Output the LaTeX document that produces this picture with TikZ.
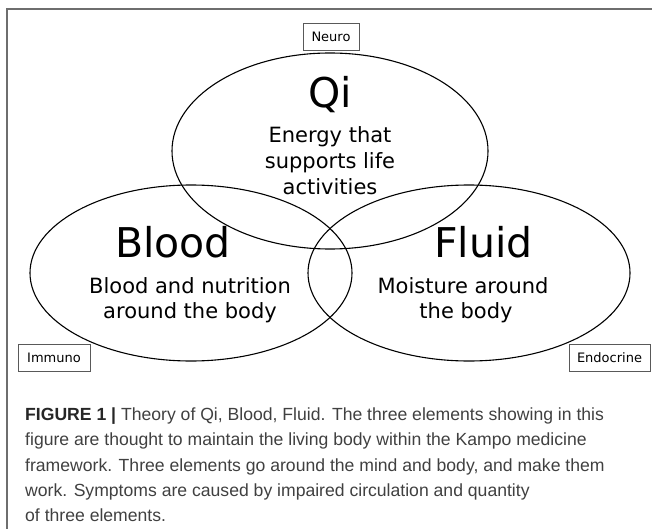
\documentclass[tikz,border=0pt]{standalone}
\usepackage{fontspec}
\setmainfont{Liberation Sans}
\newfontfamily\djv{DejaVu Sans}
\usetikzlibrary{shapes.geometric}
\definecolor{framegray}{HTML}{6E6E6E}
\definecolor{captext}{HTML}{404040}
\begin{document}
\begin{tikzpicture}[x=1pt,y=-1pt,
  venn/.style={ellipse, draw=black, line width=1.1pt, inner sep=0pt},
  tagbox/.style={draw=black!65, line width=0.7pt, font=\djv\fontsize{13}{15}\selectfont, minimum height=27pt, inner sep=0pt},
  titletext/.style={font=\djv\fontsize{41}{45}\selectfont, anchor=base, inner sep=0pt},
  subtext/.style={font=\djv\fontsize{21}{25}\selectfont, anchor=base, inner sep=0pt},
  captionline/.style={font=\fontsize{17.6}{21}\selectfont, text=captext, anchor=base west, inner sep=0pt}]
\useasboundingbox (0,0) rectangle (652,529);
% frame
\draw[framegray, line width=1.5pt] (7,529) -- (7,9) -- (652,9);
% ellipses
\node[venn, minimum width=316pt, minimum height=196pt] (qi) at (330,151) {};
\node[venn, minimum width=322pt, minimum height=176pt] (blood) at (191,273) {};
\node[venn, minimum width=322pt, minimum height=176pt] (fluid) at (469,273) {};
% tags
\node[tagbox, minimum width=56pt] (neuro) at (331,36.5) {Neuro};
\node[tagbox, minimum width=72pt] (immuno) at (54,357.5) {Immuno};
\node[tagbox, minimum width=81pt] (endo) at (609.5,357.5) {Endocrine};
% Qi texts
\node[titletext] (qit) at (330,108) {Qi};
\node[subtext] (qi1) at (330,143) {Energy that};
\node[subtext] (qi2) at (330,169) {supports life};
\node[subtext] (qi3) at (330,195) {activities};
% Blood texts
\node[titletext] (bt) at (173,257) {Blood};
\node[subtext] (b1) at (190,293) {Blood and nutrition};
\node[subtext] (b2) at (190,318) {around the body};
% Fluid texts
\node[titletext] (ft) at (483.5,257) {Fluid};
\node[subtext] (f1) at (463,293) {Moisture around};
\node[subtext] (f2) at (466,318) {the body};
% caption
\node[captionline] (c1) at (25,420) {\textbf{\color{black!85}FIGURE 1 |} Theory of Qi, Blood, Fluid. The three elements showing in this};
\node[captionline] (c2) at (25,445.5) {figure are thought to maintain the living body within the Kampo medicine};
\node[captionline] (c3) at (25,471) {framework. Three elements go around the mind and body, and make them};
\node[captionline] (c4) at (25,496.5) {work. Symptoms are caused by impaired circulation and quantity};
\node[captionline] (c5) at (25,521) {of three elements.};
\end{tikzpicture}
\end{document}
